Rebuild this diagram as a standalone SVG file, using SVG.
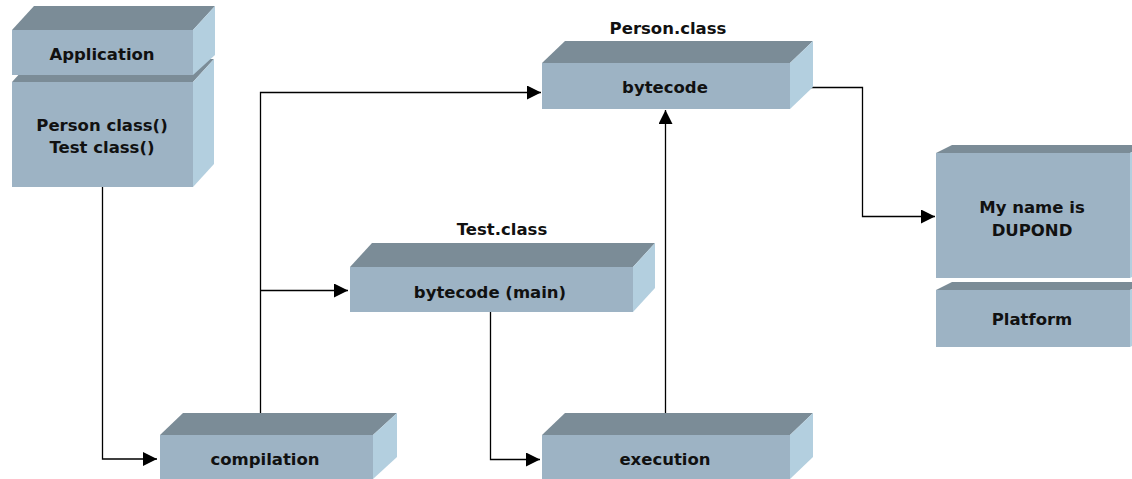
<svg xmlns="http://www.w3.org/2000/svg" width="1132" height="479" viewBox="0 0 1132 479">
<style>
.top{fill:#7b8c97}
.front{fill:#9db3c4}
.side{fill:#b3cfdf}
.lbl{font-family:"DejaVu Sans",Verdana,sans-serif;font-weight:bold;font-size:16.5px;fill:#111;text-anchor:middle}
.ln{fill:none;stroke:#000;stroke-width:1.3}
</style>
<defs>
<marker id="ah" viewBox="0 0 14 14" refX="14" refY="7" markerWidth="14" markerHeight="14" markerUnits="userSpaceOnUse" orient="auto">
<path d="M0,0 L14,7 L0,14 Z" fill="#000"/>
</marker>
</defs>
<rect width="1132" height="479" fill="#fff"/>

<g id="connectors">
<path class="ln" d="M102.5,187 V459 H157" marker-end="url(#ah)"/>
<path class="ln" d="M260.5,413 V92.5 H541" marker-end="url(#ah)"/>
<path class="ln" d="M260.5,290.5 H348" marker-end="url(#ah)"/>
<path class="ln" d="M490.5,312 V459.5 H540" marker-end="url(#ah)"/>
<path class="ln" d="M665.5,413 V110" marker-end="url(#ah)"/>
<path class="ln" d="M810,87.5 H862.5 V216.5 H935" marker-end="url(#ah)"/>
</g>

<g id="person-class-src">
<polygon class="top" points="12,82 33,59 214,59 193,82"/>
<polygon class="side" points="193,82 214,59 214,164 193,187"/>
<rect class="front" x="12" y="82" width="181" height="105"/>
<text class="lbl" x="102" y="131">Person class()</text>
<text class="lbl" x="102" y="153">Test class()</text>
</g>

<g id="application">
<polygon class="top" points="12,30 34,6 215,6 193,30"/>
<polygon class="side" points="193,30 215,6 215,55 193,75"/>
<rect class="front" x="12" y="30" width="181" height="45"/>
<text class="lbl" x="102" y="60">Application</text>
</g>

<g id="person-bytecode">
<text class="lbl" x="668" y="34">Person.class</text>
<polygon class="top" points="542,63 565,41 813,41 790,63"/>
<polygon class="side" points="790,63 813,41 813,87 790,109"/>
<rect class="front" x="542" y="63" width="248" height="46"/>
<text class="lbl" x="665" y="93">bytecode</text>
</g>

<g id="test-bytecode">
<text class="lbl" x="502" y="235">Test.class</text>
<polygon class="top" points="350,267 372,243 655,243 633,267"/>
<polygon class="side" points="633,267 655,243 655,288 633,312"/>
<rect class="front" x="350" y="267" width="283" height="45"/>
<text class="lbl" x="490" y="298">bytecode (main)</text>
</g>

<g id="compilation">
<polygon class="top" points="160,435 183,413 397,413 373,435"/>
<polygon class="side" points="373,435 397,413 397,457 373,479"/>
<rect class="front" x="160" y="435" width="213" height="44"/>
<text class="lbl" x="265" y="465">compilation</text>
</g>

<g id="execution">
<polygon class="top" points="542,435 565,413 813,413 790,435"/>
<polygon class="side" points="790,435 813,413 813,457 790,479"/>
<rect class="front" x="542" y="435" width="248" height="44"/>
<text class="lbl" x="665" y="465">execution</text>
</g>

<g id="output">
<polygon class="top" points="936,153 952,145 1146,145 1130,153"/>
<polygon class="side" points="1130,153 1146,145 1146,270 1130,278"/>
<rect class="front" x="936" y="153" width="194" height="125"/>
<text class="lbl" x="1032" y="213">My name is</text>
<text class="lbl" x="1032" y="236">DUPOND</text>
</g>

<g id="platform">
<polygon class="top" points="936,290 952,282 1146,282 1130,290"/>
<polygon class="side" points="1130,290 1146,282 1146,339 1130,347"/>
<rect class="front" x="936" y="290" width="194" height="57"/>
<text class="lbl" x="1032" y="325">Platform</text>
</g>
</svg>
